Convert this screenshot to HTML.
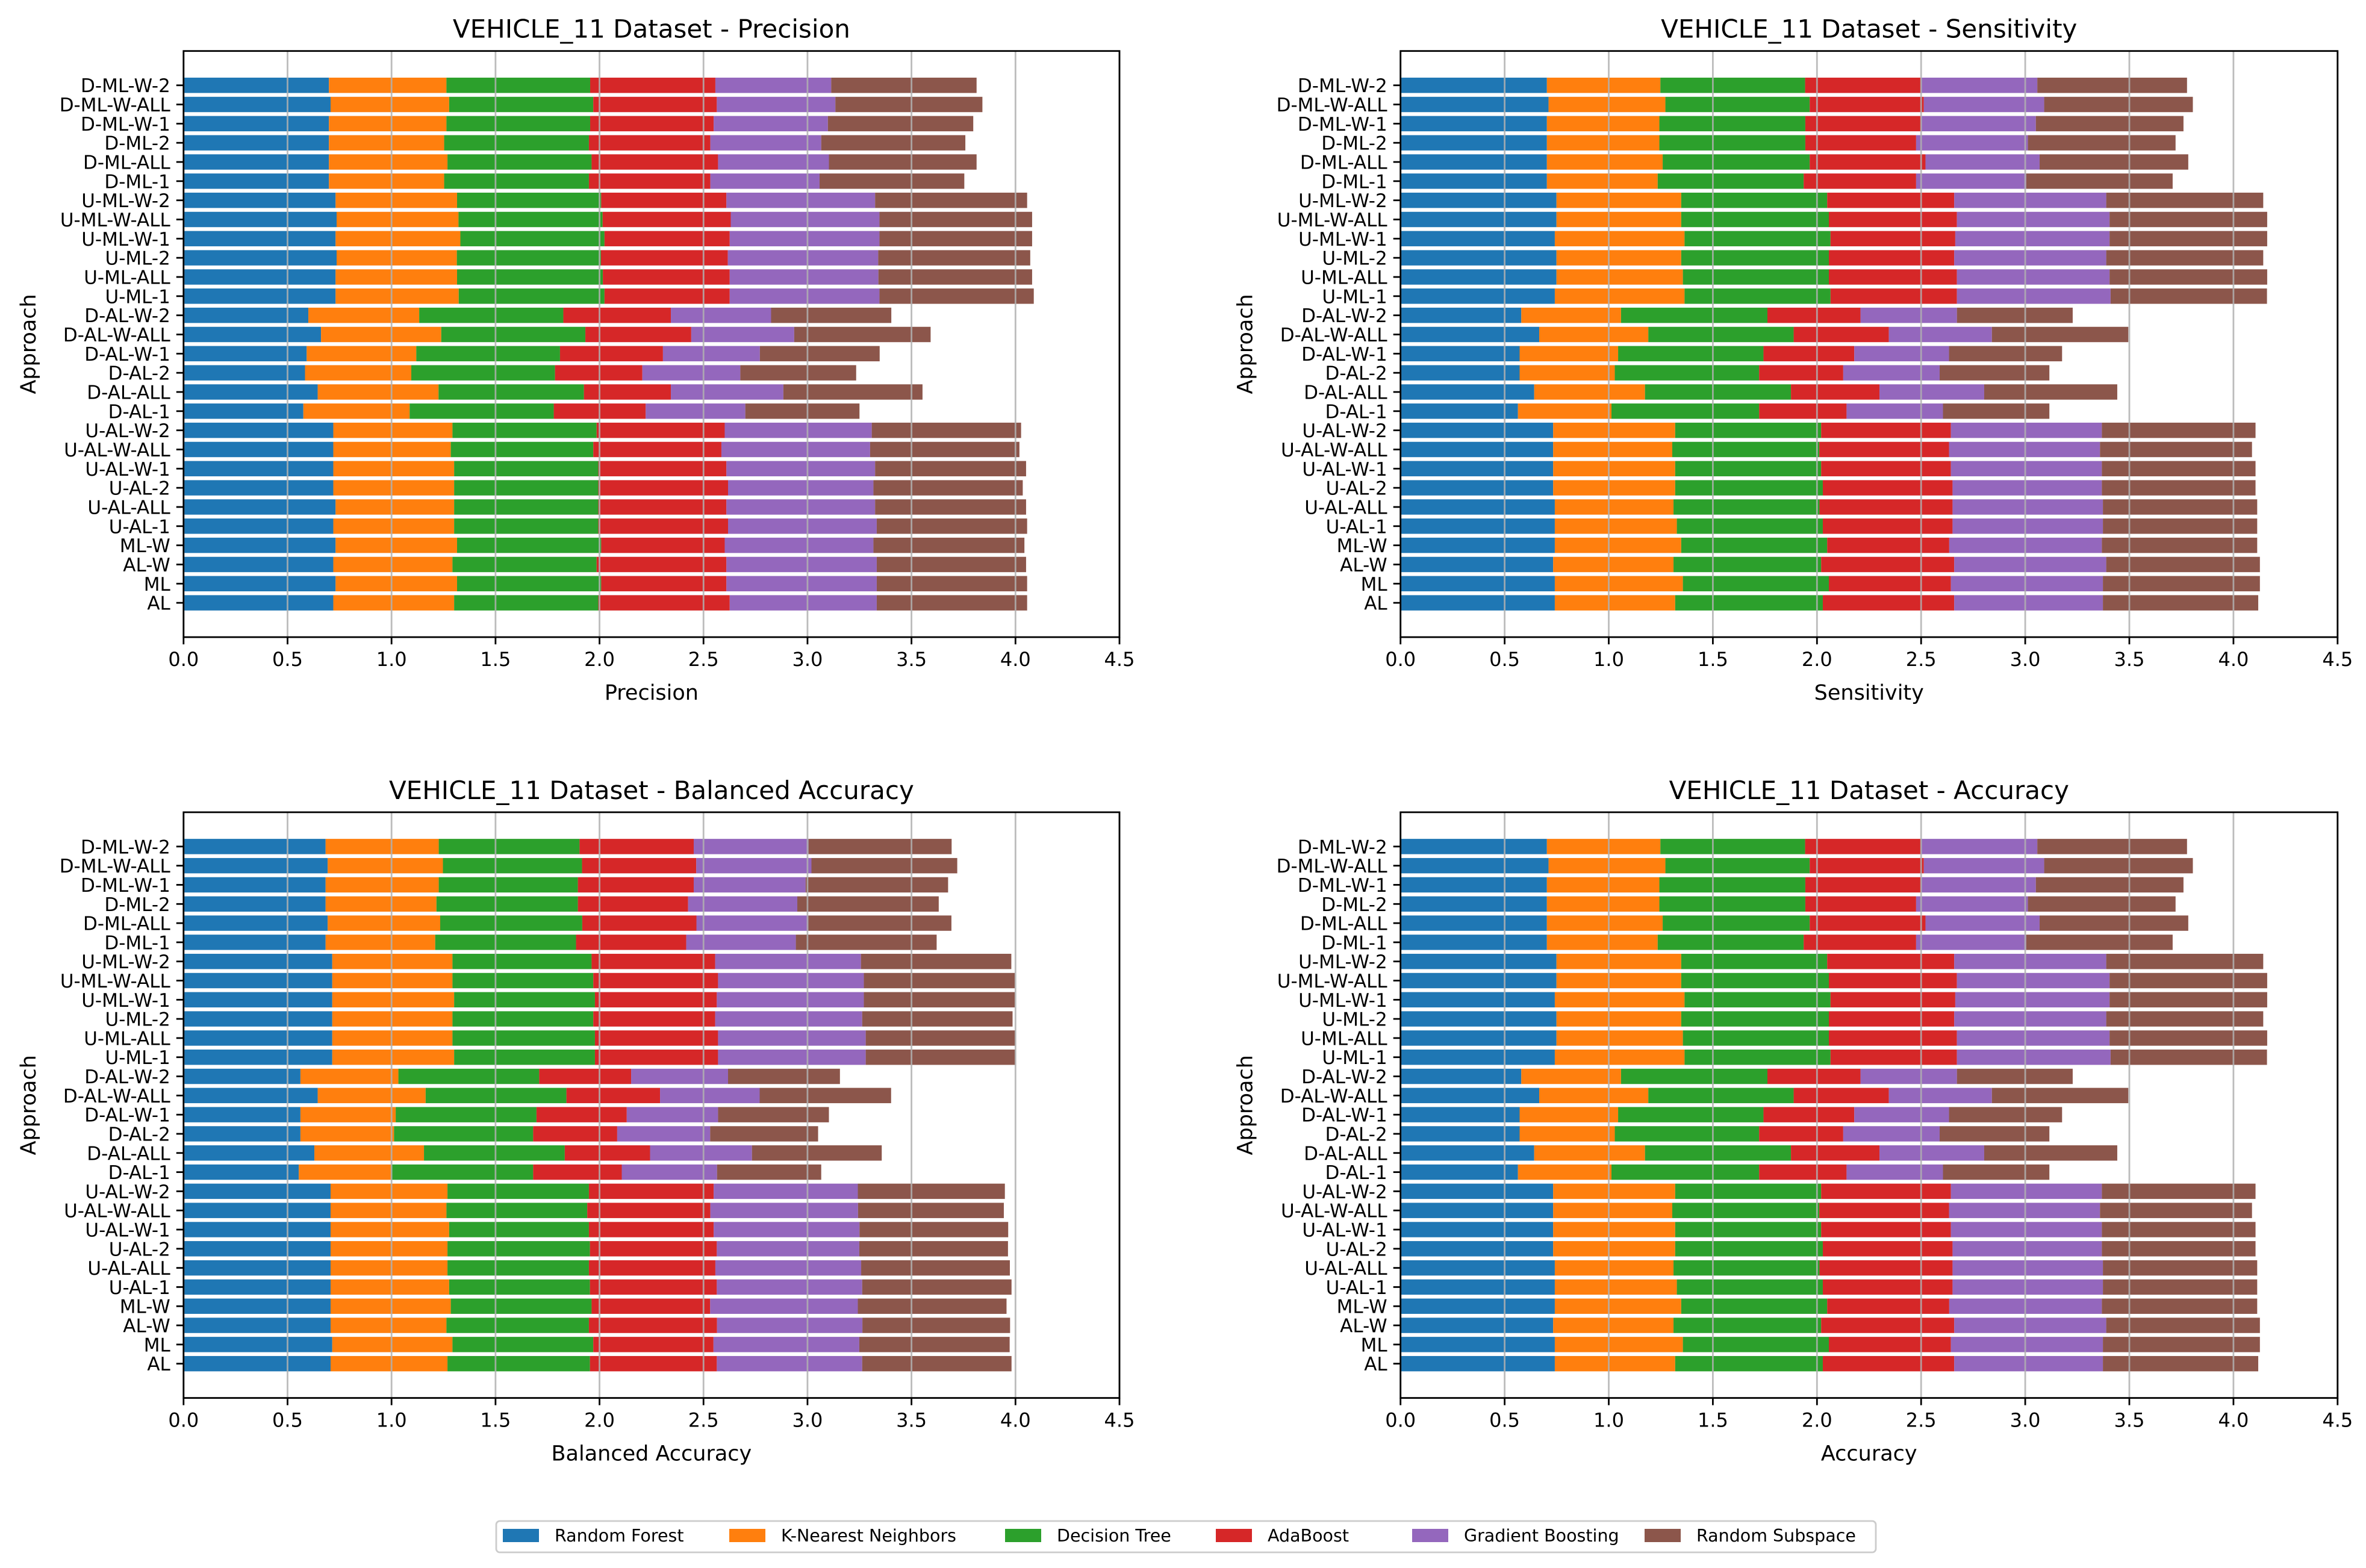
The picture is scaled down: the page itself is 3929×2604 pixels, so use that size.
<!DOCTYPE html>
<html>
<head>
<meta charset="utf-8">
<style>
html,body{margin:0;padding:0;background:#fff;}
svg{display:block;font-family:"DejaVu Sans","Liberation Sans",sans-serif;}
</style>
</head>
<body>
<svg id="fig" width="3929" height="2604" viewBox="0 0 3929 2604" xmlns="http://www.w3.org/2000/svg">
<rect x="0" y="0" width="3929" height="2604" fill="#ffffff"/>
</svg>
<script>
// categories listed top to bottom as shown
const categories = ["D-ML-W-2","D-ML-W-ALL","D-ML-W-1","D-ML-2","D-ML-ALL","D-ML-1","U-ML-W-2","U-ML-W-ALL","U-ML-W-1","U-ML-2","U-ML-ALL","U-ML-1","D-AL-W-2","D-AL-W-ALL","D-AL-W-1","D-AL-2","D-AL-ALL","D-AL-1","U-AL-W-2","U-AL-W-ALL","U-AL-W-1","U-AL-2","U-AL-ALL","U-AL-1","ML-W","AL-W","ML","AL"];
const seriesNames = ["Random Forest","K-Nearest Neighbors","Decision Tree","AdaBoost","Gradient Boosting","Random Subspace"];
const xTicks = [0,0.5,1,1.5,2,2.5,3,3.5,4,4.5];
const xTickLabels = ["0.0","0.5","1.0","1.5","2.0","2.5","3.0","3.5","4.0","4.5"];

const precRF  = [.699,.707,.699,.699,.699,.699,.731,.736,.731,.736,.731,.731,.600,.661,.592,.584,.645,.576,.720,.720,.720,.720,.731,.720,.731,.720,.731,.720];
const precKNN = [.565,.570,.565,.554,.570,.554,.584,.586,.600,.578,.584,.592,.533,.578,.527,.511,.581,.511,.573,.565,.581,.581,.570,.581,.584,.573,.584,.581];
const precDT  = [.691,.693,.691,.696,.693,.696,.693,.693,.693,.693,.701,.701,.693,.693,.691,.691,.699,.693,.693,.685,.693,.693,.693,.693,.693,.693,.693,.693];
const precADA = [.602,.594,.594,.584,.608,.584,.602,.616,.602,.610,.610,.602,.517,.509,.495,.420,.418,.442,.616,.616,.616,.624,.616,.624,.594,.624,.602,.632];
const precGB  = [.557,.570,.549,.533,.533,.525,.715,.715,.720,.723,.715,.720,.482,.495,.466,.471,.541,.479,.707,.715,.715,.699,.715,.715,.715,.723,.723,.707];
const precRS  = [.699,.707,.699,.693,.710,.696,.731,.734,.734,.731,.739,.742,.578,.656,.576,.557,.669,.549,.718,.718,.726,.718,.726,.723,.726,.718,.723,.723];

const sensRF  = [.703,.711,.703,.703,.703,.703,.749,.749,.741,.749,.749,.741,.580,.666,.572,.572,.642,.564,.733,.733,.733,.733,.741,.741,.741,.733,.741,.741];
const sensKNN = [.545,.561,.540,.540,.556,.532,.599,.599,.623,.599,.607,.623,.479,.524,.473,.457,.532,.449,.586,.572,.586,.586,.570,.586,.607,.578,.615,.578];
const sensDT  = [.695,.693,.701,.701,.706,.701,.701,.709,.701,.709,.701,.701,.703,.698,.698,.693,.701,.709,.701,.706,.701,.709,.701,.701,.701,.709,.701,.709];
const sensADA = [.556,.548,.556,.532,.556,.540,.610,.615,.599,.602,.615,.607,.447,.457,.436,.404,.425,.420,.623,.623,.623,.623,.639,.623,.586,.639,.586,.631];
const sensGB  = [.559,.578,.551,.537,.548,.529,.730,.733,.741,.730,.733,.738,.463,.495,.455,.463,.503,.463,.725,.725,.725,.717,.722,.722,.733,.730,.730,.714];
const sensRS  = [.719,.714,.709,.709,.714,.703,.754,.757,.757,.754,.757,.751,.556,.655,.543,.527,.639,.511,.738,.730,.738,.738,.741,.741,.746,.738,.754,.746];

const balRF  = [.683,.693,.683,.683,.693,.683,.715,.715,.715,.715,.715,.715,.562,.645,.562,.562,.629,.554,.707,.707,.707,.707,.707,.707,.707,.707,.715,.707];
const balKNN = [.544,.554,.544,.533,.541,.527,.578,.578,.586,.578,.578,.586,.471,.519,.458,.450,.527,.444,.562,.557,.570,.562,.562,.570,.578,.557,.578,.562];
const balDT  = [.677,.669,.669,.680,.683,.677,.669,.677,.677,.677,.685,.677,.677,.677,.677,.669,.677,.683,.680,.677,.672,.685,.680,.677,.677,.685,.677,.685];
const balADA = [.549,.549,.557,.530,.549,.530,.594,.600,.586,.586,.592,.592,.442,.450,.434,.404,.410,.426,.600,.592,.600,.610,.608,.610,.570,.616,.578,.610];
const balGB  = [.552,.554,.538,.525,.538,.527,.701,.701,.707,.707,.710,.710,.466,.479,.439,.447,.490,.458,.693,.710,.701,.685,.701,.699,.710,.699,.701,.699];
const balRS  = [.688,.701,.685,.680,.688,.677,.723,.726,.726,.723,.720,.720,.538,.632,.533,.519,.624,.501,.707,.701,.715,.715,.715,.718,.715,.710,.723,.718];

const accRF  = [.703,.711,.703,.703,.703,.703,.749,.749,.741,.749,.749,.741,.580,.666,.572,.572,.642,.564,.733,.733,.733,.733,.741,.741,.741,.733,.741,.741];
const accKNN = [.545,.561,.540,.540,.556,.532,.599,.599,.623,.599,.607,.623,.479,.524,.473,.457,.532,.449,.586,.572,.586,.586,.570,.586,.607,.578,.615,.578];
const accDT  = [.695,.693,.701,.701,.706,.701,.701,.709,.701,.709,.701,.701,.703,.698,.698,.693,.701,.709,.701,.706,.701,.709,.701,.701,.701,.709,.701,.709];
const accADA = [.556,.548,.556,.532,.556,.540,.610,.615,.599,.602,.615,.607,.447,.457,.436,.404,.425,.420,.623,.623,.623,.623,.639,.623,.586,.639,.586,.631];
const accGB  = [.559,.578,.551,.537,.548,.529,.730,.733,.741,.730,.733,.738,.463,.495,.455,.463,.503,.463,.725,.725,.725,.717,.722,.722,.733,.730,.730,.714];
const accRS  = [.719,.714,.709,.709,.714,.703,.754,.757,.757,.754,.757,.751,.556,.655,.543,.527,.639,.511,.738,.730,.738,.738,.741,.741,.746,.738,.754,.746];

const colors = ["#1f77b4","#ff7f0e","#2ca02c","#d62728","#9467bd","#8c564b"];
const NS = "http://www.w3.org/2000/svg";
const svg = document.getElementById("fig");

function mk(tag, attrs, parent){
  const e = document.createElementNS(NS, tag);
  for (const k in attrs) e.setAttribute(k, attrs[k]);
  (parent||svg).appendChild(e);
  return e;
}

const panels = [
  {key:"precision", title:"VEHICLE_11 Dataset - Precision", xlabel:"Precision", series:[precRF,precKNN,precDT,precADA,precGB,precRS], x0:304.8, x1:1859, top:84.7, bottom:1058.1, yMin:-1.79, yMax:28.79},
  {key:"sensitivity", title:"VEHICLE_11 Dataset - Sensitivity", xlabel:"Sensitivity", series:[sensRF,sensKNN,sensDT,sensADA,sensGB,sensRS], x0:2325.7, x1:3881.8, top:84.7, bottom:1058.1, yMin:-1.79, yMax:28.79},
  {key:"balanced-accuracy", title:"VEHICLE_11 Dataset - Balanced Accuracy", xlabel:"Balanced Accuracy", series:[balRF,balKNN,balDT,balADA,balGB,balRS], x0:304.8, x1:1859, top:1348.9, bottom:2321.6, yMin:-1.79, yMax:28.79},
  {key:"accuracy", title:"VEHICLE_11 Dataset - Accuracy", xlabel:"Accuracy", series:[accRF,accKNN,accDT,accADA,accGB,accRS], x0:2325.7, x1:3881.8, top:1348.9, bottom:2321.6, yMin:-1.79, yMax:28.79}
];

panels.forEach(p => {
  const g = mk("g", {});
  
  
  const xs = v => p.x0 + (v - 0) / 4.5 * (p.x1 - p.x0);
  const n = categories.length;
  // index 0 at top -> matplotlib position n-1-i
  const ys = i => p.bottom - ((n - 1 - i) - p.yMin) / (p.yMax - p.yMin) * (p.bottom - p.top);
  const bandH = (p.bottom - p.top) / (p.yMax - p.yMin) * 0.8;

  // bars
  for (let i = 0; i < n; i++) {
    let left = 0;
    for (let s = 0; s < p.series.length; s++) {
      const v = p.series[s][i];
      const r = mk("rect", {x: xs(left), y: ys(i) - bandH/2, width: xs(left+v) - xs(left), height: bandH, fill: colors[s]}, g);
      
      
      left += v;
    }
  }
  // grid lines on top
  xTicks.forEach(t => {
    const l = mk("line", {x1: xs(t), x2: xs(t), y1: p.top, y2: p.bottom, stroke: "#b0b0b0", "stroke-width": 2.8, "stroke-opacity": 0.85}, g);
    
    
  });
  // frame
  const fr = mk("rect", {x: p.x0, y: p.top, width: p.x1 - p.x0, height: p.bottom - p.top, fill: "none", stroke: "#000", "stroke-width": 2.8}, g);
  
  
  // x ticks
  xTicks.forEach((t, k) => {
    mk("line", {x1: xs(t), x2: xs(t), y1: p.bottom, y2: p.bottom + 12, stroke: "#000", "stroke-width": 2.8}, g);
    const tx = mk("text", {x: xs(t), y: p.bottom + 48, "font-size": 32, "text-anchor": "middle", fill: "#000"}, g);
    tx.textContent = xTickLabels[k];
    
    
  });
  // y ticks
  categories.forEach((c, i) => {
    mk("line", {x1: p.x0 - 12, x2: p.x0, y1: ys(i), y2: ys(i), stroke: "#000", "stroke-width": 2.8}, g);
    const tx = mk("text", {x: p.x0 - 22, y: ys(i) + 11.5, "font-size": 31, "text-anchor": "end", fill: "#000"}, g);
    tx.textContent = c;
    
    
  });
  // title
  const tt = mk("text", {x: (p.x0 + p.x1)/2, y: p.top - 22, "font-size": 42, "text-anchor": "middle", fill: "#000"}, g);
  tt.textContent = p.title;
  
  
  // x label
  const xl = mk("text", {x: (p.x0 + p.x1)/2, y: p.bottom + 104, "font-size": 35, "text-anchor": "middle", fill: "#000"}, g);
  xl.textContent = p.xlabel;
  
  
  // y label
  const cy = (p.top + p.bottom)/2;
  const yx = p.x0 - 246;
  const yl = mk("text", {x: yx, y: cy, "font-size": 35, "text-anchor": "middle", fill: "#000", transform: "rotate(-90 " + yx + " " + cy + ")"}, g);
  yl.textContent = "Approach";
  
  
});

// legend
const lg = mk("g", {});


mk("rect", {x: 824, y: 2526, width: 2291, height: 52, rx: 6, fill: "#fff", stroke: "#cccccc", "stroke-width": 2.8}, lg);
const legendX = [835, 1211, 1669, 2019, 2345, 2731];
seriesNames.forEach((name, s) => {
  const sw = mk("rect", {x: legendX[s], y: 2539, width: 60, height: 22, fill: colors[s]}, lg);
  
  
  const t = mk("text", {x: legendX[s] + 86, y: 2560, "font-size": 28.5, fill: "#000"}, lg);
  t.textContent = name;
  
  
});
</script>
</body>
</html>
